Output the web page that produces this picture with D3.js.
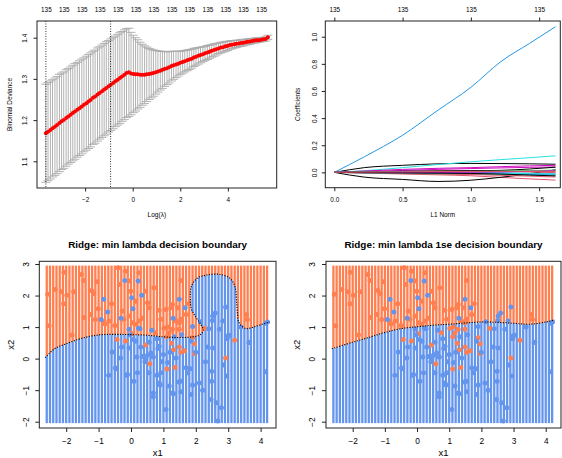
<!DOCTYPE html>
<html>
<head>
<meta charset="utf-8">
<script src="https://cdn.jsdelivr.net/npm/d3@7"></script>
<style>
body { margin: 0; background: #fff; }
text { font-family: "Liberation Sans", Arial, Helvetica, sans-serif; }
</style>
</head>
<body>
<div id="chart"></div>
<script>
/*
  2x2 panel: cv.glmnet deviance curve, coefficient paths,
  and two ridge decision boundaries (min lambda / 1se lambda)
*/

// ---- panel 1: cross-validated binomial deviance ----
var logLambda = [
  -3.65, -3.56, -3.46, -3.37, -3.27, -3.18, -3.08, -2.99, -2.90, -2.80,
  -2.71, -2.61, -2.52, -2.43, -2.33, -2.24, -2.14, -2.05, -1.95, -1.86,
  -1.77, -1.67, -1.58, -1.48, -1.39, -1.29, -1.20, -1.11, -1.01, -0.92,
  -0.82, -0.73, -0.63, -0.54, -0.45, -0.35, -0.26, -0.16, -0.07, 0.03,
  0.12, 0.21, 0.31, 0.40, 0.50, 0.59, 0.69, 0.78, 0.87, 0.97,
  1.06, 1.16, 1.25, 1.34, 1.44, 1.53, 1.63, 1.72, 1.82, 1.91,
  2.00, 2.10, 2.19, 2.29, 2.38, 2.48, 2.57, 2.66, 2.76, 2.85,
  2.95, 3.04, 3.14, 3.23, 3.32, 3.42, 3.51, 3.61, 3.70, 3.80,
  3.89, 3.98, 4.08, 4.17, 4.27, 4.36, 4.46, 4.55, 4.64, 4.74,
  4.83, 4.93, 5.02, 5.12, 5.21, 5.30, 5.40, 5.49, 5.59, 5.68
];
var cvm = [
  1.168, 1.172, 1.176, 1.180, 1.184, 1.188, 1.193, 1.197, 1.200, 1.205,
  1.209, 1.213, 1.217, 1.221, 1.225, 1.229, 1.233, 1.237, 1.241, 1.245,
  1.249, 1.254, 1.257, 1.262, 1.266, 1.270, 1.274, 1.278, 1.282, 1.286,
  1.290, 1.294, 1.298, 1.302, 1.306, 1.310, 1.314, 1.316, 1.313, 1.312,
  1.311, 1.311, 1.310, 1.310, 1.310, 1.311, 1.312, 1.313, 1.314, 1.316,
  1.318, 1.320, 1.322, 1.324, 1.326, 1.328, 1.331, 1.333, 1.335, 1.337,
  1.339, 1.341, 1.343, 1.345, 1.347, 1.349, 1.352, 1.354, 1.356, 1.358,
  1.360, 1.362, 1.364, 1.366, 1.368, 1.370, 1.372, 1.374, 1.376, 1.377,
  1.379, 1.380, 1.382, 1.383, 1.384, 1.385, 1.386, 1.387, 1.388, 1.389,
  1.390, 1.391, 1.392, 1.393, 1.394, 1.394, 1.395, 1.396, 1.397, 1.401
];
var cvsd = [
  0.119, 0.119, 0.119, 0.118, 0.118, 0.118, 0.118, 0.117, 0.117, 0.117,
  0.116, 0.116, 0.116, 0.116, 0.115, 0.115, 0.115, 0.114, 0.114, 0.114,
  0.114, 0.113, 0.113, 0.113, 0.112, 0.112, 0.112, 0.112, 0.111, 0.111,
  0.111, 0.110, 0.110, 0.110, 0.109, 0.109, 0.108, 0.107, 0.100, 0.094,
  0.089, 0.084, 0.079, 0.074, 0.070, 0.066, 0.062, 0.059, 0.056, 0.053,
  0.050, 0.047, 0.045, 0.042, 0.040, 0.038, 0.036, 0.034, 0.032, 0.030,
  0.028, 0.027, 0.026, 0.025, 0.024, 0.023, 0.022, 0.021, 0.020, 0.019,
  0.018, 0.017, 0.017, 0.016, 0.015, 0.015, 0.014, 0.013, 0.013, 0.012,
  0.012, 0.011, 0.010, 0.010, 0.009, 0.009, 0.008, 0.008, 0.008, 0.007,
  0.007, 0.007, 0.006, 0.006, 0.006, 0.005, 0.005, 0.005, 0.005, 0.005
];
var lambdaMarks = [-3.65, -0.93];            // log(lambda.min), log(lambda.1se)
var topLabelIdx = [0, 8, 16, 24, 32, 40, 48, 56, 64, 72, 80, 88, 96];
var nzLeft = [135, 135, 135, 135, 135, 135, 135, 135, 135, 135, 135, 135, 135];
var devTicks = [1.1, 1.2, 1.3, 1.4];
var logTicks = [-2, 0, 2, 4];

// ---- panel 2: coefficient paths vs L1 norm ----
var normX = [0, 0.22, 0.5, 0.76, 1.0, 1.22, 1.43, 1.62];
var coefPaths = [
  [0, 0.035, 0.052, 0.063, 0.066, 0.065, 0.063, 0.060],
  [0, -0.005, -0.012, -0.018, -0.025, -0.037, -0.048, -0.057],
  [0, 0.005, 0.008, 0.010, 0.012, 0.012, 0.010, 0.008],
  [0, 0.115, 0.274, 0.459, 0.627, 0.817, 0.951, 1.074],
  [0, 0.012, 0.035, 0.058, 0.078, 0.094, 0.108, 0.122],
  [0, 0.010, 0.022, 0.030, 0.035, 0.042, 0.048, 0.052],
  [0, -0.035, -0.052, -0.067, -0.058, -0.036, -0.010, 0.020],
  [0, 0.003, 0.006, 0.010, 0.013, 0.008, 0.003, -0.002],
  [0, -0.004, -0.008, -0.011, -0.013, -0.015, -0.018, -0.020],
  [0, -0.003, -0.005, -0.008, -0.010, -0.013, -0.016, -0.018],
  [0, 0.002, 0.005, 0.007, 0.009, 0.011, 0.012, 0.014],
  [0, 0.006, 0.014, 0.022, 0.028, 0.033, 0.037, 0.040],
  [0, 0.004, 0.008, 0.010, 0.012, 0.015, 0.025, 0.038],
  [0, -0.004, -0.008, -0.012, -0.016, -0.022, -0.028, -0.034],
  [0, 0.002, 0.003, 0.004, 0.006, 0.009, 0.013, 0.017],
  [0, 0.001, 0.002, 0.002, 0.001, -0.003, -0.007, -0.012],
  [0, -0.002, -0.004, -0.005, -0.006, -0.007, -0.009, -0.011],
  [0, -0.001, -0.002, -0.001, 0.001, 0.004, 0.008, 0.012],
  [0, -0.002, -0.004, -0.006, -0.008, -0.012, -0.020, -0.026],
  [0, 0.002, 0.004, 0.006, 0.007, 0.008, 0.007, 0.005]
];
var rPalette = ['#000000', '#DF536B', '#61D04F', '#2297E6', '#28E2E5', '#CD0BBC'];
var normTicks = [0, 0.5, 1.0, 1.5];
var nzRight = [135, 135, 135, 135];
var coefTicks = [0, 0.2, 0.4, 0.6, 0.8, 1.0];

// ---- panels 3/4: training points and decision boundaries ----
var classOrange = [
  [-2.57,2.04],[-2.53,1.04],[-2.34,2.19],[-2.15,2.12],[-2.07,2.74],[-2.08,1.74],[-1.98,2.01],
  [-1.82,0.75],[-1.77,2.12],[-1.53,2.67],[-1.46,2.48],[-1.25,1.40],[-1.22,2.16],[-1.15,2.06],
  [-1.10,1.24],[-1.05,2.44],[-1.01,1.58],[-0.86,1.16],[-0.68,1.19],[-0.60,1.74],[-0.50,1.05],
  [-0.40,2.88],[-0.35,2.35],[-0.27,1.51],[-0.22,1.25],[-0.17,2.77],[-0.06,2.46],[-0.06,1.35],
  [-0.01,2.14],[0.04,1.14],[0.14,1.82],[0.14,1.09],[0.25,2.72],[0.25,1.19],[0.35,1.28],
  [0.45,2.14],[0.51,1.77],[0.56,1.61],[0.71,2.25],[0.87,1.53],[1.08,1.56],[1.23,1.61],
  [1.28,1.72],[1.44,1.61],[1.54,2.48],[1.70,1.40],[1.54,1.25],[0.92,1.25],[1.39,1.19],
  [1.49,1.14],[1.13,1.00],[1.02,0.96],[1.28,0.93],[1.18,0.82],[0.76,0.82],[1.49,0.93],
  [1.11,0.69],[1.25,0.49],[1.90,0.66],[1.96,0.47],[2.26,0.96],[3.20,0.58],[3.56,1.40],
  [3.59,1.24],[-0.43,0.61],[-0.17,0.56],[0.04,0.79],[0.45,0.43],[0.58,-0.16],[1.31,0.28],
  [1.49,0.37],[1.54,0.20],[1.65,0.25],[1.96,0.16],[1.11,-0.33],[1.36,-0.28],[2.92,0.02],
  [1.78,1.74],[-1.45,1.30],[-0.80,1.10]
];
var classBlue = [
  [-0.19,2.48],[0.22,2.46],[0.33,2.01],[0.02,1.93],[0.06,1.58],[-0.84,1.88],[-0.72,1.48],
  [-0.92,1.24],[-0.31,1.28],[1.49,1.88],[1.67,1.61],[1.30,1.28],[2.52,1.35],[2.60,1.45],
  [2.92,1.64],[2.14,1.17],[2.83,1.19],[1.90,1.02],[2.73,0.93],[2.98,0.72],[4.15,1.12],
  [3.64,0.51],[0.23,0.96],[-0.06,0.93],[1.33,0.69],[-0.58,0.21],[-0.32,0.02],[-0.06,0.34],
  [0.30,0.37],[0.35,0.07],[0.46,-0.01],[-0.48,-0.30],[-0.69,-0.53],[-0.11,-0.50],[0.20,-0.45],
  [0.09,-0.72],[0.56,-0.45],[0.15,0.55],[0.61,0.18],[0.56,0.52],[0.87,0.39],[1.00,0.13],
  [0.69,0.05],[1.13,-0.12],[1.39,0.02],[1.70,-0.29],[1.75,-0.45],[0.92,-0.45],[1.54,-0.72],
  [1.18,-0.87],[0.87,-0.77],[0.69,-1.09],[1.28,-1.09],[1.54,-1.05],[1.85,-1.14],[2.11,-0.77],
  [2.21,-1.00],[2.37,0.37],[2.52,0.34],[2.49,-0.40],[2.49,-0.72],[2.47,-1.30],[2.63,-1.40],
  [2.79,-1.56],[2.68,-1.98],[1.08,-1.61],[3.66,0.52],[1.85,0.55],[2.97,0.63],[3.03,0.74],
  [3.39,1.00],[4.21,1.16],[2.40,0.95],[2.51,1.21],[1.57,0.76],[0.83,0.32],[0.51,0.11],
  [0.43,-0.10],[0.18,0.05],[0.07,0.61],[-0.03,0.76],[0.28,0.95],[0.64,0.90],[0.80,0.63],
  [-0.45,-0.32],[1.47,-0.74],[1.31,-1.11],[0.90,-0.84],[0.80,-0.53],[1.83,-0.32],[1.90,-0.84],
  [2.85,-0.20],[2.95,-0.55],[4.15,-0.42],[-0.13,-0.53],[-0.29,0.37],[0.69,-1.21],[2.30,-0.10],
  [2.00,0.20],[1.20,0.20],[0.95,-0.10]
];
// contour of p = 0.5, left to right (min lambda has the blue bulge)
var boundaryMin = [
  [-2.65,0.03],[-2.35,0.32],[-2.0,0.47],[-1.5,0.65],[-1.0,0.75],[-0.5,0.77],[0,0.76],
  [0.5,0.74],[1.0,0.69],[1.5,0.67],[1.9,0.69],[2.12,0.75],[2.23,0.90],[2.13,1.12],
  [1.98,1.35],[1.86,1.59],[1.83,1.95],[1.86,2.28],[2.03,2.54],[2.34,2.65],[2.75,2.67],
  [3.06,2.54],[3.21,2.28],[3.26,1.80],[3.29,1.40],[3.32,1.17],[3.42,1.03],[3.56,0.95],
  [3.72,0.98],[3.90,1.04],[4.08,1.10],[4.28,1.16]
];
var boundary1se = [
  [-2.65,0.31],[-2.0,0.52],[-1.5,0.67],[-1.0,0.83],[-0.5,0.95],[0,1.01],[0.5,1.06],
  [1.0,1.09],[1.5,1.13],[2.0,1.16],[2.5,1.15],[3.0,1.12],[3.5,1.09],[4.0,1.16],[4.28,1.23]
];
// prediction grid columns (regular seq over x1) and its x2 span
var gridX1 = d3.range(-2.6, 4.25, 0.1);
var gridX2 = [-2.03, 2.95];
var x1Ticks = [-2, -1, 0, 1, 2, 3, 4];
var x2Ticks = [-2, -1, 0, 1, 2, 3];

var ORANGE = '#FF7F50', BLUE = '#6495ED';

var svg = d3.select('#chart').append('svg')
  .attr('width', 562).attr('height', 458);
svg.append('rect').attr('width', 562).attr('height', 458).attr('fill', '#fff');

function box(g, P) {
  g.append('rect')
    .attr('x', P.l).attr('y', P.t)
    .attr('width', P.r - P.l).attr('height', P.b - P.t)
    .attr('fill', 'none').attr('stroke', '#222').attr('stroke-width', 1);
}

function bottomAxis(g, scale, P, ticks, fmt, fs, tl, off) {
  var ax = g.append('g').attr('transform', 'translate(0,' + P.b + ')')
    .call(d3.axisBottom(scale).tickValues(ticks).tickFormat(fmt).tickSize(tl).tickSizeOuter(0));
  ax.select('.domain').remove();
  ax.selectAll('.tick line').attr('stroke', '#222');
  ax.selectAll('.tick text').attr('y', off).attr('dy', '0.35em')
    .attr('font-size', fs).attr('fill', '#000');
}

function leftAxis(g, scale, P, ticks, fmt, fs, tl, off) {
  var ax = g.append('g').attr('transform', 'translate(' + P.l + ',0)')
    .call(d3.axisLeft(scale).tickValues(ticks).tickFormat(fmt).tickSize(tl).tickSizeOuter(0));
  ax.select('.domain').remove();
  ax.selectAll('.tick line').attr('stroke', '#222');
  ax.selectAll('.tick text')
    .attr('transform', 'rotate(-90)')
    .attr('x', 0).attr('y', -off).attr('dy', '0.35em')
    .attr('text-anchor', 'middle')
    .attr('font-size', fs).attr('fill', '#000');
}

function xTitle(g, P, txt, fs, off, bold) {
  g.append('text').attr('x', (P.l + P.r) / 2).attr('y', P.b + off).attr('dy', '0.35em')
    .attr('text-anchor', 'middle').attr('font-size', fs)
    .attr('font-weight', bold ? 'bold' : null).text(txt);
}

function yTitle(g, P, txt, fs, off) {
  g.append('text')
    .attr('transform', 'translate(' + (P.l - off) + ',' + ((P.t + P.b) / 2) + ') rotate(-90)')
    .attr('dy', '0.35em').attr('text-anchor', 'middle').attr('font-size', fs).text(txt);
}

/* ---------- 1. deviance vs log(lambda) ---------- */
var P1 = { l: 37, r: 276.7, t: 21, b: 188 };
var g1 = svg.append('g');
var xLam = d3.scaleLinear().domain([-4.023, 6.053]).range([P1.l, P1.r]);
var yDev = d3.scaleLinear().domain([1.0352, 1.4405]).range([P1.b, P1.t]);
var cv = logLambda.map(function(l, i) { return { l: l, m: cvm[i], s: cvsd[i] }; });
var barw = (d3.max(logLambda) - d3.min(logLambda)) * 0.02;

var bars = g1.append('g').attr('stroke', '#A9A9A9').attr('stroke-width', 0.9);
bars.selectAll('line.v').data(cv).join('line').attr('class', 'v')
  .attr('x1', function(d) { return xLam(d.l); }).attr('x2', function(d) { return xLam(d.l); })
  .attr('y1', function(d) { return yDev(d.m + d.s); }).attr('y2', function(d) { return yDev(d.m - d.s); });
bars.selectAll('line.up').data(cv).join('line').attr('class', 'up')
  .attr('x1', function(d) { return xLam(d.l - barw); }).attr('x2', function(d) { return xLam(d.l + barw); })
  .attr('y1', function(d) { return yDev(d.m + d.s); }).attr('y2', function(d) { return yDev(d.m + d.s); });
bars.selectAll('line.lo').data(cv).join('line').attr('class', 'lo')
  .attr('x1', function(d) { return xLam(d.l - barw); }).attr('x2', function(d) { return xLam(d.l + barw); })
  .attr('y1', function(d) { return yDev(d.m - d.s); }).attr('y2', function(d) { return yDev(d.m - d.s); });

g1.selectAll('circle').data(cv).join('circle')
  .attr('cx', function(d) { return xLam(d.l); }).attr('cy', function(d) { return yDev(d.m); })
  .attr('r', 2).attr('fill', '#FF0000');

g1.selectAll('line.mark').data(lambdaMarks).join('line').attr('class', 'mark')
  .attr('x1', function(d) { return xLam(d); }).attr('x2', function(d) { return xLam(d); })
  .attr('y1', P1.t).attr('y2', P1.b)
  .attr('stroke', '#000').attr('stroke-width', 0.8).attr('stroke-dasharray', '1,1.5');

box(g1, P1);
bottomAxis(g1, xLam, P1, logTicks, d3.format('d'), 6.4, 3.5, 12);
leftAxis(g1, yDev, P1, devTicks, d3.format('.1f'), 6.4, 3.5, 12);
var top1 = g1.append('g').attr('transform', 'translate(0,' + P1.t + ')')
  .call(d3.axisTop(xLam).tickValues(topLabelIdx.map(function(i) { return logLambda[i]; }))
    .tickFormat(function(d, i) { return nzLeft[i]; }).tickSize(0));
top1.select('.domain').remove();
top1.selectAll('.tick text').attr('y', -11).attr('dy', '0.35em').attr('font-size', 6.4).attr('fill', '#000');
xTitle(g1, P1, 'Log(\u03bb)', 6.6, 27);
yTitle(g1, P1, 'Binomial Deviance', 6.4, 27);

/* ---------- 2. coefficient paths ---------- */
var P2 = { l: 325.3, r: 560.3, t: 21, b: 187.7 };
var g2 = svg.append('g');
var xNorm = d3.scaleLinear().domain([-0.066, 1.655]).range([P2.l, P2.r]);
var yCoef = d3.scaleLinear().domain([-0.113, 1.116]).range([P2.b, P2.t]);
var coefLine = d3.line()
  .x(function(d, i) { return xNorm(normX[i]); })
  .y(function(d) { return yCoef(d); })
  .curve(d3.curveMonotoneX);
g2.selectAll('path.coef').data(coefPaths).join('path').attr('class', 'coef')
  .attr('d', coefLine).attr('fill', 'none').attr('stroke-width', 1)
  .attr('stroke', function(d, i) { return rPalette[i % rPalette.length]; });

box(g2, P2);
bottomAxis(g2, xNorm, P2, normTicks, d3.format('.1f'), 6.4, 3.5, 12);
leftAxis(g2, yCoef, P2, coefTicks, d3.format('.1f'), 6.4, 3.5, 11);
var top2 = g2.append('g').attr('transform', 'translate(0,' + P2.t + ')')
  .call(d3.axisTop(xNorm).tickValues(normTicks)
    .tickFormat(function(d, i) { return nzRight[i]; }).tickSize(3.5).tickSizeOuter(0));
top2.select('.domain').remove();
top2.selectAll('.tick line').attr('stroke', '#222');
top2.selectAll('.tick text').attr('y', -11).attr('dy', '0.35em').attr('font-size', 6.4).attr('fill', '#000');
xTitle(g2, P2, 'L1 Norm', 6.4, 27);
yTitle(g2, P2, 'Coefficients', 6.4, 27.6);

/* ---------- 3/4. decision boundaries ---------- */
function boundaryPanel(P, boundary, title) {
  var g = svg.append('g');
  var xs = d3.scaleLinear().domain([-2.83, 4.475]).range([P.l, P.r]);
  var ys = d3.scaleLinear().domain([-2.20, 3.086]).range([P.b, P.t]);
  var gStripes = g.append('g'), gPts = g.append('g'), gCont = g.append('g');

  var line = d3.line().x(function(d) { return xs(d[0]); }).y(function(d) { return ys(d[1]); })
    .curve(d3.curveCatmullRom.alpha(0.5));
  var path = gCont.append('path').attr('d', line(boundary))
    .attr('fill', 'none').attr('stroke', '#000').attr('stroke-width', 1.1)
    .attr('stroke-dasharray', '1.2,1.4');

  // blue region = below the contour; sample the drawn curve into a polygon
  var node = path.node(), L = node.getTotalLength();
  var poly = d3.range(0, L, 1).map(function(s) { var p = node.getPointAtLength(s); return [p.x, p.y]; });
  poly.push([xs(boundary[boundary.length - 1][0]), ys(-3)], [xs(boundary[0][0]), ys(-3)]);

  var yTop = ys(gridX2[1]), yBot = ys(gridX2[0]), step = 0.5;
  gridX1.forEach(function(gx) {
    var px = xs(gx), runs = [], cur = null;
    for (var py = yTop; py <= yBot + 1e-6; py += step) {
      var c = d3.polygonContains(poly, [px, py]) ? BLUE : ORANGE;
      if (!cur || cur.c !== c) { cur = { c: c, y0: py, y1: py }; runs.push(cur); }
      cur.y1 = py;
    }
    runs[runs.length - 1].y1 = yBot;
    gStripes.selectAll(null).data(runs).enter().append('rect')
      .attr('x', px - 1.15).attr('width', 2.3)
      .attr('y', function(d) { return d.y0; })
      .attr('height', function(d) { return Math.max(d.y1 - d.y0 + step, 0.5); })
      .attr('fill', function(d) { return d.c; });
  });

  gPts.selectAll('circle.o').data(classOrange).join('circle').attr('class', 'o')
    .attr('cx', function(d) { return xs(d[0]); }).attr('cy', function(d) { return ys(d[1]); })
    .attr('r', 2.5).attr('fill', ORANGE);
  gPts.selectAll('circle.b').data(classBlue).join('circle').attr('class', 'b')
    .attr('cx', function(d) { return xs(d[0]); }).attr('cy', function(d) { return ys(d[1]); })
    .attr('r', 2.5).attr('fill', BLUE);

  box(g, P);
  bottomAxis(g, xs, P, x1Ticks, d3.format('d'), 8.3, 4, 13);
  leftAxis(g, ys, P, x2Ticks, d3.format('d'), 8.3, 4, 13.5);
  xTitle(g, P, 'x1', 9.5, 24.5);
  yTitle(g, P, 'x2', 9.5, 29);
  g.append('text').attr('x', (P.l + P.r) / 2).attr('y', 245).attr('dy', '0.35em')
    .attr('text-anchor', 'middle').attr('font-size', 9.9).attr('font-weight', 'bold').text(title);
}

boundaryPanel({ l: 39.3, r: 276, t: 261.3, b: 428 }, boundaryMin, 'Ridge: min lambda decision boundary');
boundaryPanel({ l: 326, r: 561, t: 261.3, b: 428 }, boundary1se, 'Ridge: min lambda 1se decision boundary');
</script>
</body>
</html>
